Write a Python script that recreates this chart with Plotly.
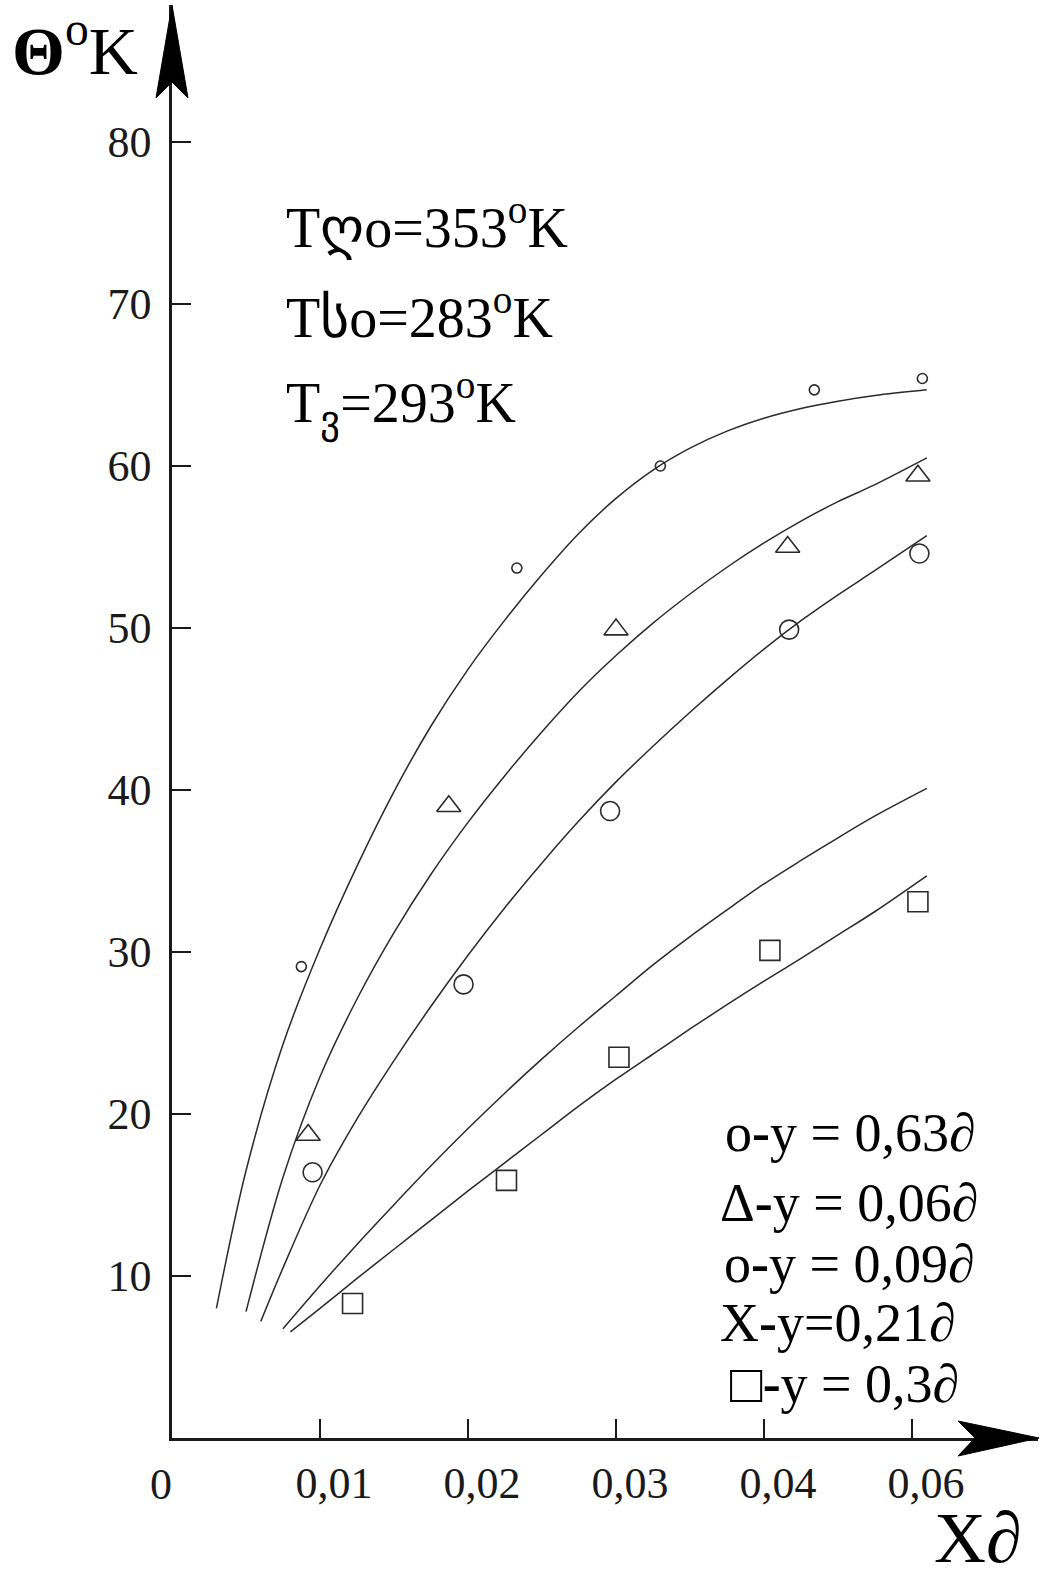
import plotly.graph_objects as go

# ---------------- data (axis units) ----------------
x_tick_vals = [0.01, 0.02, 0.03, 0.04, 0.05]
x_tick_text = ["0,01", "0,02", "0,03", "0,04", "0,06"]
y_tick_vals = [10, 20, 30, 40, 50, 60, 70, 80]
y_tick_text = ["10", "20", "30", "40", "50", "60", "70", "80"]

# fitted curves
curve_063_x = [0.003, 0.005, 0.0075, 0.010, 0.0125, 0.015, 0.0175, 0.020, 0.0225, 0.025,
               0.0275, 0.030, 0.0325, 0.035, 0.0375, 0.040, 0.0425, 0.045, 0.0475, 0.051]
curve_063_y = [8.0, 16.5, 24.3, 30.2, 35.3, 39.9, 43.95, 47.45, 50.5, 53.3,
               55.85, 58.0, 59.75, 61.1, 62.15, 62.95, 63.55, 64.0, 64.35, 64.7]

curve_006_x = [0.005, 0.0075, 0.010, 0.0125, 0.015, 0.0175, 0.020, 0.0225, 0.025, 0.0275,
               0.030, 0.0325, 0.035, 0.0375, 0.040, 0.0425, 0.045, 0.0475, 0.051]
curve_006_y = [7.8, 16.1, 22.3, 27.1, 31.2, 34.8, 38.0, 40.9, 43.6, 46.1,
               48.3, 50.3, 52.1, 53.75, 55.25, 56.6, 57.8, 58.85, 60.5]

curve_009_x = [0.006, 0.0075, 0.010, 0.0125, 0.015, 0.0175, 0.020, 0.0225, 0.025, 0.0275,
               0.030, 0.0325, 0.035, 0.0375, 0.040, 0.0425, 0.045, 0.0475, 0.051]
curve_009_y = [7.2, 10.5, 15.6, 19.7, 23.3, 26.65, 29.8, 32.75, 35.5, 38.1,
               40.5, 42.7, 44.8, 46.8, 48.7, 50.45, 52.05, 53.55, 55.7]

curve_021_x = [0.0075, 0.010, 0.0125, 0.015, 0.0175, 0.020, 0.0225, 0.025, 0.0275,
               0.030, 0.0325, 0.035, 0.0375, 0.040, 0.0425, 0.045, 0.0475, 0.051]
curve_021_y = [6.75, 9.4, 11.95, 14.4, 16.8, 19.1, 21.3, 23.4, 25.4,
               27.3, 29.2, 30.95, 32.6, 34.2, 35.65, 37.05, 38.4, 40.1]

curve_03_x = [0.008, 0.010, 0.0125, 0.015, 0.0175, 0.020, 0.0225, 0.025, 0.0275,
              0.030, 0.0325, 0.035, 0.0375, 0.040, 0.0425, 0.045, 0.0475, 0.051]
curve_03_y = [6.55, 8.0, 9.85, 11.65, 13.45, 15.25, 17.0, 18.75, 20.5,
              22.15, 23.7, 25.25, 26.75, 28.2, 29.6, 31.05, 32.5, 34.7]

# measured points
pts_063_x = [0.00874, 0.0233, 0.0330, 0.0434, 0.0507]
pts_063_y = [29.1, 53.7, 60.0, 64.7, 65.4]

pts_006_x = [0.0092, 0.0187, 0.0300, 0.0416, 0.0504]
pts_006_y = [18.7, 39.0, 49.9, 55.0, 59.4]

pts_009_x = [0.0095, 0.0197, 0.0296, 0.0417, 0.0505]
pts_009_y = [16.4, 28.0, 38.7, 49.9, 54.6]

pts_03_x = [0.0122, 0.0226, 0.0302, 0.0404, 0.0504]
pts_03_y = [8.3, 15.9, 23.5, 30.1, 33.1]

legend_lines = ["o<b>-</b>y = 0,63∂", "Δ<b>-</b>y = 0,06∂", "o<b>-</b>y = 0,09∂",
                "X<b>-</b>y=0,21∂", "□<b>-</b>y = 0,3∂"]
temp_lines = ["Tღo=353<sup>o</sup>K", "Tსo=283<sup>o</sup>K", "T<sub>ვ</sub>=293<sup>o</sup>K"]

# ---------------- layout geometry ----------------
W, H = 1041, 1579
ML, MR, MT, MB = 172, 3, 5, 141
PW, PH = W - ML - MR, H - MT - MB
X_MAX = PW / 14800.0      # 148 px per 0.01
Y_MAX = PH / 16.2         # 16.2 px per unit

def px(x):  # pixel -> paper x
    return (x - ML) / PW

def py(y):  # pixel -> paper y
    return (H - MB - y) / PH

FONT = "Liberation Serif, Times New Roman, serif"
INK = "#1a1a1a"
LINE = "#2a2a2a"

fig = go.Figure()

for cx, cy in [(curve_063_x, curve_063_y), (curve_006_x, curve_006_y),
               (curve_009_x, curve_009_y), (curve_021_x, curve_021_y),
               (curve_03_x, curve_03_y)]:
    fig.add_trace(go.Scatter(x=cx, y=cy, mode="lines",
                             line=dict(color=LINE, width=1.5, shape="spline", smoothing=0.9),
                             hoverinfo="skip", showlegend=False))

marker_specs = [
    (pts_063_x, pts_063_y, "circle-open", 10),
    (pts_006_x, pts_006_y, "triangle-up-open", 21),
    (pts_009_x, pts_009_y, "circle-open", 19),
    (pts_03_x, pts_03_y, "square-open", 20),
]
for mx, my, sym, sz in marker_specs:
    fig.add_trace(go.Scatter(x=mx, y=my, mode="markers",
                             marker=dict(symbol=sym, size=sz, color=LINE,
                                         line=dict(color=LINE, width=1.6)),
                             showlegend=False))

fig.update_xaxes(range=[0, X_MAX], showline=True, linecolor=INK, linewidth=2.5,
                 ticks="inside", ticklen=19, tickwidth=2, tickcolor=INK,
                 tickvals=x_tick_vals, ticktext=x_tick_text,
                 tickfont=dict(family=FONT, size=44, color=INK),
                 ticklabelshift=14, ticklabelstandoff=4,
                 showgrid=False, zeroline=False, fixedrange=True)
fig.update_yaxes(range=[0, Y_MAX], showline=True, linecolor=INK, linewidth=2.5,
                 ticks="inside", ticklen=19, tickwidth=2, tickcolor=INK,
                 tickvals=y_tick_vals, ticktext=y_tick_text,
                 tickfont=dict(family=FONT, size=44, color=INK),
                 ticklabelstandoff=9,
                 showgrid=False, zeroline=False, fixedrange=True)

shapes = [
    # y-axis arrowhead
    dict(type="path", xref="paper", yref="paper",
         path=f"M {px(172)} {py(5)} L {px(156)} {py(98)} L {px(172)} {py(82)} L {px(188)} {py(98)} Z",
         fillcolor="black", line=dict(color="black", width=1)),
    # x-axis arrowhead
    dict(type="path", xref="paper", yref="paper",
         path=f"M {px(1039)} {py(1438)} L {px(958)} {py(1421)} L {px(975)} {py(1438)} L {px(958)} {py(1456)} Z",
         fillcolor="black", line=dict(color="black", width=1)),
]

annotations = []
# axis titles
annotations.append(dict(xref="paper", yref="paper", x=px(10), y=py(46), xanchor="left", yanchor="middle",
                        text="<b>Θ</b><sup>o</sup>K", showarrow=False,
                        font=dict(family=FONT, size=68, color="black")))
annotations.append(dict(xref="paper", yref="paper", x=px(978), y=py(1538), xanchor="center", yanchor="middle",
                        text="X∂", showarrow=False,
                        font=dict(family=FONT, size=72, color="black")))
# origin label
annotations.append(dict(xref="paper", yref="paper", x=px(161), y=py(1484), xanchor="center", yanchor="middle",
                        text="0", showarrow=False,
                        font=dict(family=FONT, size=44, color=INK)))
# temperature notes
for txt, yy in zip(temp_lines, [224, 313, 403]):
    annotations.append(dict(xref="paper", yref="paper", x=px(284), y=py(yy), xanchor="left", yanchor="middle",
                            text=txt, showarrow=False,
                            font=dict(family=FONT, size=56, color="black")))
# legend text
for txt, xx, yy in zip(legend_lines, [723, 718, 722, 718, 728], [1133, 1203, 1264, 1323, 1384]):
    annotations.append(dict(xref="paper", yref="paper", x=px(xx), y=py(yy), xanchor="left", yanchor="middle",
                            text=txt, showarrow=False,
                            font=dict(family=FONT, size=54, color="black")))

fig.update_layout(width=W, height=H, margin=dict(l=ML, r=MR, t=MT, b=MB),
                  paper_bgcolor="white", plot_bgcolor="white",
                  shapes=shapes, annotations=annotations, showlegend=False)

fig.write_html("out.html")
